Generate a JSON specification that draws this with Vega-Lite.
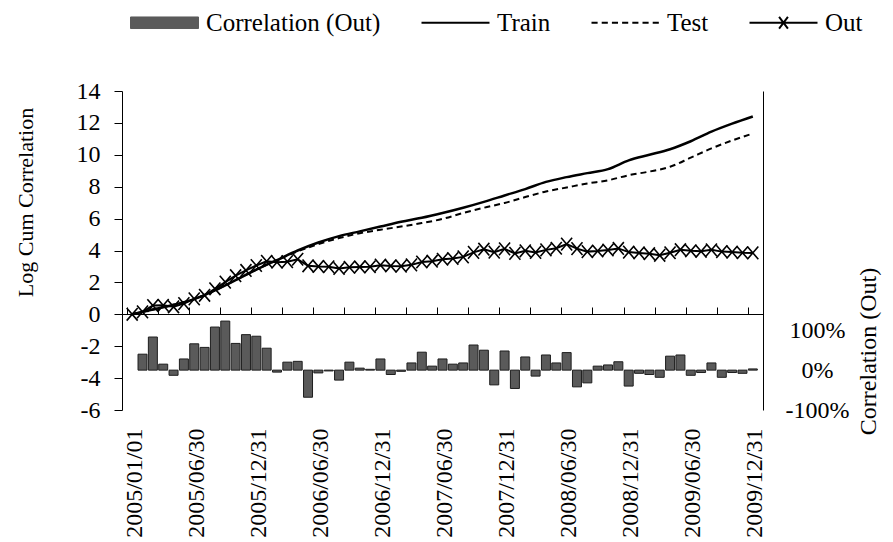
{
  "$schema": "https://vega.github.io/schema/vega-lite/v6.json",
  "autosize": {"type": "none"},
  "padding": {"left": 122, "top": 91, "right": 130, "bottom": 132},
  "width": 641,
  "height": 319,
  "background": "white",
  "config": {
    "font": "Liberation Serif",
    "view": {"stroke": null},
    "axis": {
      "grid": false,
      "domainColor": "black",
      "tickColor": "black",
      "labelColor": "black",
      "titleColor": "black",
      "labelFont": "Liberation Serif",
      "titleFont": "Liberation Serif",
      "labelFontSize": 24,
      "titleFontSize": 24,
      "titleFontWeight": "normal"
    }
  },
  "datasets": {
    "d": [
      {"month": 1, "series": "Correlation (Out)", "value": 0.40},
      {"month": 2, "series": "Correlation (Out)", "value": 0.83},
      {"month": 3, "series": "Correlation (Out)", "value": 0.15},
      {"month": 4, "series": "Correlation (Out)", "value": -0.13},
      {"month": 5, "series": "Correlation (Out)", "value": 0.28},
      {"month": 6, "series": "Correlation (Out)", "value": 0.66},
      {"month": 7, "series": "Correlation (Out)", "value": 0.57},
      {"month": 8, "series": "Correlation (Out)", "value": 1.08},
      {"month": 9, "series": "Correlation (Out)", "value": 1.23},
      {"month": 10, "series": "Correlation (Out)", "value": 0.67},
      {"month": 11, "series": "Correlation (Out)", "value": 0.89},
      {"month": 12, "series": "Correlation (Out)", "value": 0.85},
      {"month": 13, "series": "Correlation (Out)", "value": 0.55},
      {"month": 14, "series": "Correlation (Out)", "value": -0.05},
      {"month": 15, "series": "Correlation (Out)", "value": 0.20},
      {"month": 16, "series": "Correlation (Out)", "value": 0.22},
      {"month": 17, "series": "Correlation (Out)", "value": -0.68},
      {"month": 18, "series": "Correlation (Out)", "value": -0.07},
      {"month": 19, "series": "Correlation (Out)", "value": -0.02},
      {"month": 20, "series": "Correlation (Out)", "value": -0.25},
      {"month": 21, "series": "Correlation (Out)", "value": 0.20},
      {"month": 22, "series": "Correlation (Out)", "value": 0.05},
      {"month": 23, "series": "Correlation (Out)", "value": 0.02},
      {"month": 24, "series": "Correlation (Out)", "value": 0.28},
      {"month": 25, "series": "Correlation (Out)", "value": -0.11},
      {"month": 26, "series": "Correlation (Out)", "value": -0.03},
      {"month": 27, "series": "Correlation (Out)", "value": 0.18},
      {"month": 28, "series": "Correlation (Out)", "value": 0.45},
      {"month": 29, "series": "Correlation (Out)", "value": 0.10},
      {"month": 30, "series": "Correlation (Out)", "value": 0.28},
      {"month": 31, "series": "Correlation (Out)", "value": 0.15},
      {"month": 32, "series": "Correlation (Out)", "value": 0.18},
      {"month": 33, "series": "Correlation (Out)", "value": 0.63},
      {"month": 34, "series": "Correlation (Out)", "value": 0.50},
      {"month": 35, "series": "Correlation (Out)", "value": -0.37},
      {"month": 36, "series": "Correlation (Out)", "value": 0.48},
      {"month": 37, "series": "Correlation (Out)", "value": -0.46},
      {"month": 38, "series": "Correlation (Out)", "value": 0.33},
      {"month": 39, "series": "Correlation (Out)", "value": -0.15},
      {"month": 40, "series": "Correlation (Out)", "value": 0.38},
      {"month": 41, "series": "Correlation (Out)", "value": 0.18},
      {"month": 42, "series": "Correlation (Out)", "value": 0.44},
      {"month": 43, "series": "Correlation (Out)", "value": -0.42},
      {"month": 44, "series": "Correlation (Out)", "value": -0.32},
      {"month": 45, "series": "Correlation (Out)", "value": 0.10},
      {"month": 46, "series": "Correlation (Out)", "value": 0.13},
      {"month": 47, "series": "Correlation (Out)", "value": 0.21},
      {"month": 48, "series": "Correlation (Out)", "value": -0.40},
      {"month": 49, "series": "Correlation (Out)", "value": -0.08},
      {"month": 50, "series": "Correlation (Out)", "value": -0.11},
      {"month": 51, "series": "Correlation (Out)", "value": -0.18},
      {"month": 52, "series": "Correlation (Out)", "value": 0.35},
      {"month": 53, "series": "Correlation (Out)", "value": 0.38},
      {"month": 54, "series": "Correlation (Out)", "value": -0.13},
      {"month": 55, "series": "Correlation (Out)", "value": -0.06},
      {"month": 56, "series": "Correlation (Out)", "value": 0.18},
      {"month": 57, "series": "Correlation (Out)", "value": -0.18},
      {"month": 58, "series": "Correlation (Out)", "value": -0.06},
      {"month": 59, "series": "Correlation (Out)", "value": -0.08},
      {"month": 60, "series": "Correlation (Out)", "value": 0.03},

      {"month": 0, "series": "Train", "value": 0},
      {"month": 2, "series": "Train", "value": 0.3},
      {"month": 4, "series": "Train", "value": 0.6},
      {"month": 6, "series": "Train", "value": 0.95},
      {"month": 8, "series": "Train", "value": 1.5},
      {"month": 10, "series": "Train", "value": 2.15},
      {"month": 12, "series": "Train", "value": 2.8},
      {"month": 14, "series": "Train", "value": 3.4},
      {"month": 16, "series": "Train", "value": 4.0},
      {"month": 18, "series": "Train", "value": 4.5},
      {"month": 20, "series": "Train", "value": 4.9},
      {"month": 22, "series": "Train", "value": 5.2},
      {"month": 24, "series": "Train", "value": 5.5},
      {"month": 26, "series": "Train", "value": 5.8},
      {"month": 28, "series": "Train", "value": 6.05},
      {"month": 30, "series": "Train", "value": 6.35},
      {"month": 32, "series": "Train", "value": 6.68},
      {"month": 34, "series": "Train", "value": 7.05},
      {"month": 36, "series": "Train", "value": 7.45},
      {"month": 38, "series": "Train", "value": 7.85},
      {"month": 40, "series": "Train", "value": 8.3},
      {"month": 42, "series": "Train", "value": 8.6},
      {"month": 44, "series": "Train", "value": 8.85},
      {"month": 46, "series": "Train", "value": 9.1},
      {"month": 48, "series": "Train", "value": 9.65},
      {"month": 50, "series": "Train", "value": 10.0},
      {"month": 52, "series": "Train", "value": 10.35},
      {"month": 54, "series": "Train", "value": 10.85},
      {"month": 56, "series": "Train", "value": 11.45},
      {"month": 58, "series": "Train", "value": 11.95},
      {"month": 60, "series": "Train", "value": 12.4},

      {"month": 0, "series": "Test", "value": 0},
      {"month": 2, "series": "Test", "value": 0.3},
      {"month": 4, "series": "Test", "value": 0.6},
      {"month": 6, "series": "Test", "value": 0.95},
      {"month": 8, "series": "Test", "value": 1.5},
      {"month": 10, "series": "Test", "value": 2.15},
      {"month": 12, "series": "Test", "value": 2.8},
      {"month": 14, "series": "Test", "value": 3.4},
      {"month": 16, "series": "Test", "value": 3.95},
      {"month": 18, "series": "Test", "value": 4.4},
      {"month": 20, "series": "Test", "value": 4.78},
      {"month": 22, "series": "Test", "value": 5.08},
      {"month": 24, "series": "Test", "value": 5.3},
      {"month": 26, "series": "Test", "value": 5.5},
      {"month": 28, "series": "Test", "value": 5.72},
      {"month": 30, "series": "Test", "value": 5.98},
      {"month": 32, "series": "Test", "value": 6.35},
      {"month": 34, "series": "Test", "value": 6.68},
      {"month": 36, "series": "Test", "value": 6.98},
      {"month": 38, "series": "Test", "value": 7.35},
      {"month": 40, "series": "Test", "value": 7.7},
      {"month": 42, "series": "Test", "value": 7.95},
      {"month": 44, "series": "Test", "value": 8.2},
      {"month": 46, "series": "Test", "value": 8.4},
      {"month": 48, "series": "Test", "value": 8.72},
      {"month": 50, "series": "Test", "value": 8.95},
      {"month": 52, "series": "Test", "value": 9.25},
      {"month": 54, "series": "Test", "value": 9.82},
      {"month": 56, "series": "Test", "value": 10.4},
      {"month": 58, "series": "Test", "value": 10.9},
      {"month": 60, "series": "Test", "value": 11.33},

      {"month": 0, "series": "Out", "value": 0},
      {"month": 1, "series": "Out", "value": 0.15},
      {"month": 2, "series": "Out", "value": 0.55},
      {"month": 3, "series": "Out", "value": 0.56},
      {"month": 4, "series": "Out", "value": 0.47},
      {"month": 5, "series": "Out", "value": 0.67},
      {"month": 6, "series": "Out", "value": 0.97},
      {"month": 7, "series": "Out", "value": 1.19},
      {"month": 8, "series": "Out", "value": 1.6},
      {"month": 9, "series": "Out", "value": 2.02},
      {"month": 10, "series": "Out", "value": 2.42},
      {"month": 11, "series": "Out", "value": 2.75},
      {"month": 12, "series": "Out", "value": 3.06},
      {"month": 13, "series": "Out", "value": 3.32},
      {"month": 14, "series": "Out", "value": 3.27},
      {"month": 15, "series": "Out", "value": 3.3},
      {"month": 16, "series": "Out", "value": 3.45},
      {"month": 17, "series": "Out", "value": 3.04},
      {"month": 18, "series": "Out", "value": 3.0},
      {"month": 19, "series": "Out", "value": 2.98},
      {"month": 20, "series": "Out", "value": 2.87},
      {"month": 21, "series": "Out", "value": 2.95},
      {"month": 22, "series": "Out", "value": 2.97},
      {"month": 23, "series": "Out", "value": 2.98},
      {"month": 24, "series": "Out", "value": 3.08},
      {"month": 25, "series": "Out", "value": 3.03},
      {"month": 26, "series": "Out", "value": 3.02},
      {"month": 27, "series": "Out", "value": 3.1},
      {"month": 28, "series": "Out", "value": 3.28},
      {"month": 29, "series": "Out", "value": 3.33},
      {"month": 30, "series": "Out", "value": 3.45},
      {"month": 31, "series": "Out", "value": 3.5},
      {"month": 32, "series": "Out", "value": 3.6},
      {"month": 33, "series": "Out", "value": 3.88},
      {"month": 34, "series": "Out", "value": 4.08},
      {"month": 35, "series": "Out", "value": 3.9},
      {"month": 36, "series": "Out", "value": 4.1},
      {"month": 37, "series": "Out", "value": 3.82},
      {"month": 38, "series": "Out", "value": 3.98},
      {"month": 39, "series": "Out", "value": 3.88},
      {"month": 40, "series": "Out", "value": 4.04},
      {"month": 41, "series": "Out", "value": 4.14},
      {"month": 42, "series": "Out", "value": 4.4},
      {"month": 43, "series": "Out", "value": 4.12},
      {"month": 44, "series": "Out", "value": 3.93},
      {"month": 45, "series": "Out", "value": 3.97},
      {"month": 46, "series": "Out", "value": 4.03},
      {"month": 47, "series": "Out", "value": 4.13},
      {"month": 48, "series": "Out", "value": 3.9},
      {"month": 49, "series": "Out", "value": 3.85},
      {"month": 50, "series": "Out", "value": 3.8},
      {"month": 51, "series": "Out", "value": 3.7},
      {"month": 52, "series": "Out", "value": 3.86},
      {"month": 53, "series": "Out", "value": 4.05},
      {"month": 54, "series": "Out", "value": 3.98},
      {"month": 55, "series": "Out", "value": 3.95},
      {"month": 56, "series": "Out", "value": 4.04},
      {"month": 57, "series": "Out", "value": 3.93},
      {"month": 58, "series": "Out", "value": 3.9},
      {"month": 59, "series": "Out", "value": 3.86},
      {"month": 60, "series": "Out", "value": 3.85}
    ]
  },
  "data": {"name": "d"},
  "encoding": {
    "x": {
      "field": "month",
      "type": "quantitative",
      "scale": {"domain": [-0.5, 60.5], "nice": false, "zero": false},
      "axis": {
        "title": null,
        "values": [-0.5, 2.5, 5.5, 8.5, 11.5, 14.5, 17.5, 20.5, 23.5, 26.5, 29.5, 32.5, 35.5, 38.5, 41.5, 44.5, 47.5, 50.5, 53.5, 56.5, 59.5],
        "offset": -96,
        "tickSize": -7,
        "labelPadding": 121,
        "labelAngle": -90,
        "labelAlign": "right",
        "labelBaseline": "middle",
        "labelOffset": 7,
        "labelBound": false,
        "labelFlush": false,
        "labelOverlap": false,
        "labelExpr": "(datum.value + 0.5) % 6 == 0 ? ['2005/01/01','2005/06/30','2005/12/31','2006/06/30','2006/12/31','2007/06/30','2007/12/31','2008/06/30','2008/12/31','2009/06/30','2009/12/31'][(datum.value + 0.5) / 6] : ''"
      }
    }
  },
  "layer": [
    {
      "transform": [{"filter": "datum.series == 'Correlation (Out)'"}],
      "mark": {"type": "bar", "size": 9, "stroke": "#1e1e1e", "strokeWidth": 1},
      "encoding": {
        "y": {
          "field": "value",
          "type": "quantitative",
          "scale": {"domain": [-1, 7], "nice": false},
          "axis": {
            "orient": "right",
            "values": [-1, 0, 1],
            "ticks": false,
            "labelPadding": 54,
            "labelAlign": "center",
            "labelFlush": false,
            "labelExpr": "(datum.value * 100) + '%'",
            "title": "Correlation (Out)",
            "titleAngle": -90,
            "titleX": 105,
            "titleY": 260,
            "titleAlign": "center",
            "titleBaseline": "middle"
          }
        },
        "color": {
          "field": "series",
          "type": "nominal",
          "scale": {"domain": ["Correlation (Out)", "Train", "Test", "Out"], "range": ["#5a5a5a", "black", "black", "black"]},
          "legend": {
            "orient": "none",
            "legendX": 30,
            "legendY": -81,
            "direction": "horizontal",
            "title": null,
            "symbolSize": 4624,
            "symbolType": {"expr": "datum.value === 'Correlation (Out)' ? 'M-1,-0.17H1V0.17H-1Z' : datum.value === 'Test' ? 'M-1,0H-0.82M-0.7,0H-0.52M-0.4,0H-0.22M-0.1,0H0.08M0.2,0H0.38M0.5,0H0.68M0.8,0H0.98' : datum.value === 'Out' ? 'M-1,0H1M-0.13,-0.17L0.13,0.17M-0.13,0.17L0.13,-0.17' : 'M-1,0H1'"},
            "symbolStrokeColor": "black",
            "symbolStrokeWidth": {"expr": "datum.value === 'Correlation (Out)' ? 1 : 2"},
            "labelFont": "Liberation Serif",
            "labelFontSize": 25,
            "labelColor": "black",
            "labelLimit": 400,
            "labelOffset": 29,
            "columnPadding": 36
          }
        }
      }
    },
    {
      "encoding": {
        "y": {
          "field": "value",
          "type": "quantitative",
          "scale": {"domain": [-6, 14], "nice": false, "zero": false},
          "axis": {
            "values": [-6, -4, -2, 0, 2, 4, 6, 8, 10, 12, 14],
            "tickSize": 8,
            "labelPadding": 14,
            "labelExpr": "'' + datum.value",
            "labelFlush": false,
            "title": "Log Cum Correlation",
            "titleFontSize": 22,
            "titleAngle": -90,
            "titleX": -97,
            "titleY": 111,
            "titleAlign": "center",
            "titleBaseline": "middle"
          }
        }
      },
      "layer": [
        {
          "transform": [{"filter": "datum.series == 'Train'"}],
          "mark": {"type": "line", "strokeWidth": 2.5, "interpolate": "monotone"},
          "encoding": {"color": {"field": "series", "type": "nominal"}}
        },
        {
          "transform": [{"filter": "datum.series == 'Test'"}],
          "mark": {"type": "line", "strokeWidth": 2, "strokeDash": [6, 4], "interpolate": "monotone"},
          "encoding": {"color": {"field": "series", "type": "nominal"}}
        },
        {
          "transform": [{"filter": "datum.series == 'Out'"}],
          "mark": {"type": "line", "strokeWidth": 2},
          "encoding": {"color": {"field": "series", "type": "nominal"}}
        },
        {
          "transform": [{"filter": "datum.series == 'Out'"}],
          "mark": {"type": "point", "shape": "M-1,-1.15L1,1.15M-1,1.15L1,-1.15", "size": 121, "filled": false, "color": "black", "strokeWidth": 1.6, "opacity": 1},
          "encoding": {}
        }
      ]
    }
  ],
  "resolve": {"scale": {"y": "independent"}, "axis": {"y": "independent"}}
}
